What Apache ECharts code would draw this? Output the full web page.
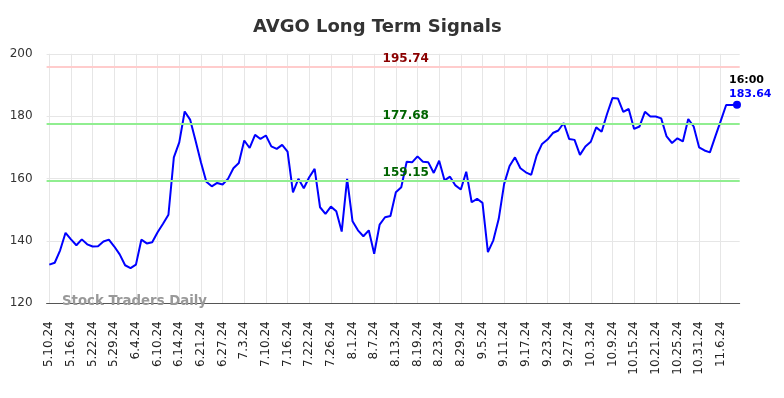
<!DOCTYPE html>
<html>
<head>
<meta charset="utf-8">
<script src="https://cdn.jsdelivr.net/npm/echarts@6/dist/echarts.min.js"></script>
<style>
  html, body { margin: 0; padding: 0; background: #fff; }
  #chart { width: 784px; height: 398px; }
</style>
</head>
<body>
<div id="chart"></div>
<script>
// trading days, 5.10.24 -> 11.11.24
const dates = [
  "5.10.24","5.13.24","5.14.24","5.15.24","5.16.24","5.17.24","5.20.24","5.21.24","5.22.24","5.23.24",
  "5.24.24","5.28.24","5.29.24","5.30.24","5.31.24","6.3.24","6.4.24","6.5.24","6.6.24","6.7.24",
  "6.10.24","6.11.24","6.12.24","6.13.24","6.14.24","6.17.24","6.18.24","6.20.24","6.21.24","6.24.24",
  "6.25.24","6.26.24","6.27.24","6.28.24","7.1.24","7.2.24","7.3.24","7.5.24","7.8.24","7.9.24",
  "7.10.24","7.11.24","7.12.24","7.15.24","7.16.24","7.17.24","7.18.24","7.19.24","7.22.24","7.23.24",
  "7.24.24","7.25.24","7.26.24","7.29.24","7.30.24","7.31.24","8.1.24","8.2.24","8.5.24","8.6.24",
  "8.7.24","8.8.24","8.9.24","8.12.24","8.13.24","8.14.24","8.15.24","8.16.24","8.19.24","8.20.24",
  "8.21.24","8.22.24","8.23.24","8.26.24","8.27.24","8.28.24","8.29.24","8.30.24","9.3.24","9.4.24",
  "9.5.24","9.6.24","9.9.24","9.10.24","9.11.24","9.12.24","9.13.24","9.16.24","9.17.24","9.18.24",
  "9.19.24","9.20.24","9.23.24","9.24.24","9.25.24","9.26.24","9.27.24","9.30.24","10.1.24","10.2.24",
  "10.3.24","10.4.24","10.7.24","10.8.24","10.9.24","10.10.24","10.11.24","10.14.24","10.15.24","10.16.24",
  "10.17.24","10.18.24","10.21.24","10.22.24","10.23.24","10.24.24","10.25.24","10.28.24","10.29.24","10.30.24",
  "10.31.24","11.1.24","11.4.24","11.5.24","11.6.24","11.7.24","11.8.24","11.11.24"
];

const prices = [
  132.4, 133.0, 137.0, 142.6, 140.5, 138.6, 140.5, 138.9, 138.2, 138.3,
  139.8, 140.4, 138.2, 135.7, 132.2, 131.3, 132.4, 140.4, 139.2, 139.6,
  142.8, 145.5, 148.4, 166.8, 171.6, 181.5, 178.9, 172.2, 165.2, 159.0,
  157.5, 158.6, 158.1, 159.9, 163.3, 165.0, 172.2, 169.8, 174.0, 172.7,
  173.8, 170.3, 169.5, 170.8, 168.6, 155.6, 159.9, 156.9, 160.4, 163.1,
  150.8, 148.7, 151.0, 149.5, 143.0, 159.9, 146.3, 143.4, 141.5, 143.4,
  135.9, 145.2, 147.6, 148.0, 155.6, 157.2, 165.4, 165.2, 167.1, 165.4,
  165.2, 161.8, 165.7, 159.4, 160.6, 157.8, 156.5, 162.2, 152.4, 153.5,
  152.2, 136.4, 140.2, 147.1, 158.3, 164.0, 166.8, 163.3, 162.0, 161.2,
  167.4, 171.1, 172.5, 174.6, 175.4, 177.8, 172.7, 172.4, 167.6, 170.3,
  171.8, 176.4, 175.0, 180.7, 185.8, 185.7, 181.4, 182.3, 175.9, 176.7,
  181.4, 179.9, 179.9, 179.3, 173.5, 171.4, 172.9, 171.9, 179.1, 176.7,
  170.0, 169.0, 168.4, 173.5, 178.5, 183.6, 183.6, 183.64
];

const levels = [195.74, 177.68, 159.15];
const levelLine = ["#ffcccc", "#90ee90", "#90ee90"];
const levelText = ["#8b0000", "#006400", "#006400"];
const lastTime = "16:00";

const FONT = "DejaVu Sans";
const chart = echarts.init(document.getElementById("chart"));
const lastIdx = prices.length - 1;

const option = {
  animation: false,
  backgroundColor: "#fff",
  title: {
    text: "AVGO Long Term Signals",
    left: 248,
    top: 13,
    textStyle: { fontFamily: FONT, fontSize: 18, fontWeight: "bold", color: "#333" }
  },
  grid: { left: 46.6, right: 44.3, top: 53.8, bottom: 94.7 },
  xAxis: {
    type: "category",
    data: dates,
    boundaryGap: true,
    axisLine: { lineStyle: { color: "#555", width: 1 } },
    axisTick: { show: false },
    axisLabel: {
      interval: 3,
      rotate: 90,
      margin: 18,
      fontFamily: FONT,
      fontSize: 12,
      color: "#222"
    },
    splitLine: {
      show: true,
      interval: 3,
      alignWithLabel: true,
      lineStyle: { color: "#e6e6e6", width: 1 }
    }
  },
  yAxis: {
    type: "value",
    min: 120,
    max: 200,
    interval: 20,
    axisLine: { show: false },
    axisTick: { show: false },
    axisLabel: { fontFamily: FONT, fontSize: 12, color: "#333", margin: 14 },
    splitLine: { lineStyle: { color: "#e6e6e6", width: 1 } }
  },
  graphic: [{
    type: "text",
    left: 62,
    top: 295,
    z: 10,
    style: { text: "Stock Traders Daily", fill: "#999", font: "bold 13.3px " + FONT }
  }],
  series: [{
    type: "line",
    data: prices,
    showSymbol: false,
    lineStyle: { color: "#0000ff", width: 2 },
    itemStyle: { color: "#0000ff" },
    markLine: {
      silent: true,
      symbol: "none",
      data: levels.map((v, i) => ({
        yAxis: v,
        lineStyle: { color: levelLine[i], width: 2, type: "solid" },
        label: {
          show: true,
          position: "insideStartTop",
          distance: [336, 2],
          formatter: v.toFixed(2),
          color: levelText[i],
          fontFamily: FONT,
          fontSize: 12,
          fontWeight: "bold"
        }
      }))
    },
    markPoint: {
      silent: true,
      symbol: "circle",
      symbolSize: 8,
      itemStyle: { color: "#0000ff" },
      data: [{
        coord: [lastIdx, prices[lastIdx]],
        label: {
          show: true,
          position: [-4, -28],
          align: "left",
          verticalAlign: "top",
          formatter: "{t|" + lastTime + "}\n{v|" + prices[lastIdx].toFixed(2) + "}",
          rich: {
            t: { color: "#000", fontFamily: FONT, fontSize: 11, fontWeight: "bold", lineHeight: 14 },
            v: { color: "#0000ff", fontFamily: FONT, fontSize: 11, fontWeight: "bold", lineHeight: 14 }
          }
        }
      }]
    }
  }]
};

chart.setOption(option);
</script>
</body>
</html>
